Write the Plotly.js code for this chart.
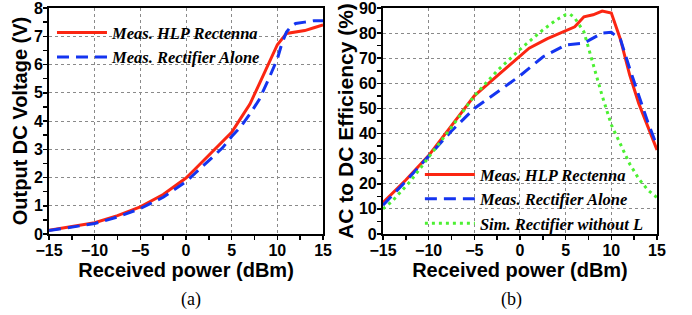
<!DOCTYPE html>
<html>
<head>
<meta charset="utf-8">
<script src="https://cdn.plot.ly/plotly-3.0.1.min.js"></script>
<style>html,body{margin:0;padding:0;background:#fff;}#chart{width:692px;height:315px;}</style>
</head>
<body>
<div id="chart"></div>
<script>
// (a) Output DC voltage vs received power
const vRedX  = [-15, -12.5, -10, -7.5, -5, -2.5, 0, 1, 2, 3, 4, 5, 6, 7, 8, 9, 10, 11, 12, 13, 14, 15];
const vRedY  = [0.13, 0.27, 0.4, 0.65, 0.96, 1.4, 1.98, 2.3, 2.62, 2.95, 3.25, 3.6, 4.1, 4.6, 5.3, 6.0, 6.7, 7.1, 7.15, 7.2, 7.3, 7.4];
const vBlueX = [-15, -12.5, -10, -7.5, -5, -2.5, 0, 1, 2, 3, 4, 5, 6, 7, 8, 9, 10, 10.5, 11, 11.5, 12, 13, 14, 15];
const vBlueY = [0.12, 0.24, 0.37, 0.6, 0.9, 1.3, 1.85, 2.15, 2.45, 2.75, 3.05, 3.45, 3.8, 4.25, 4.75, 5.45, 6.2, 6.75, 7.15, 7.35, 7.45, 7.5, 7.55, 7.55];

// (b) AC to DC efficiency vs received power
const eRedX   = [-15, -12.5, -10, -7.5, -5, -2.5, 0, 1, 3, 5, 6, 7, 8, 9, 10, 11, 12, 13, 14, 15];
const eRedY   = [12.5, 21.5, 31.2, 43, 55, 63, 70.7, 74, 77.8, 80.8, 82.5, 86.5, 87.3, 88.8, 88, 77.5, 63.5, 52, 42.8, 33.5];
const eBlueX  = [-15, -12.5, -10, -7.5, -5, -2.5, 0, 2.5, 5, 7, 8, 9, 10, 11, 12, 13, 14, 15];
const eBlueY  = [11.5, 21, 31, 41, 50, 56.5, 63, 70.5, 75.3, 76, 78, 80, 80.3, 77.5, 66, 55, 44.5, 35];
const eGreenX = [-15, -14, -12, -10, -7.5, -5, -2.5, 0, 2.5, 4, 5, 5.5, 6, 7, 8, 9, 10, 11, 12, 13, 14, 15];
const eGreenY = [10, 13, 21, 30.5, 42.5, 55, 65, 73.5, 81.3, 85.3, 87.3, 87.5, 86, 80.5, 67.5, 55, 43.5, 35.5, 28, 22, 17.5, 14.5];

const names = ['Meas. HLP Rectenna', 'Meas. Rectifier Alone', 'Sim. Rectifier without L'];
const xTitle = 'Received power (dBm)';

const RED = '#fb2612', BLUE = '#1434f0', GREEN = '#4cf032';
const DASH = '12px,7px', DOT = '3px,4px';

const traces = [
  {x: vRedX, y: vRedY, name: names[0], mode: 'lines', line: {color: RED, width: 3}, xaxis: 'x', yaxis: 'y', legend: 'legend'},
  {x: vBlueX, y: vBlueY, name: names[1], mode: 'lines', line: {color: BLUE, width: 3, dash: DASH}, xaxis: 'x', yaxis: 'y', legend: 'legend'},
  {x: eRedX, y: eRedY, name: names[0], mode: 'lines', line: {color: RED, width: 3}, xaxis: 'x2', yaxis: 'y2', legend: 'legend2'},
  {x: eBlueX, y: eBlueY, name: names[1], mode: 'lines', line: {color: BLUE, width: 3, dash: DASH}, xaxis: 'x2', yaxis: 'y2', legend: 'legend2'},
  {x: eGreenX, y: eGreenY, name: names[2], mode: 'lines', line: {color: GREEN, width: 3, dash: DOT}, xaxis: 'x2', yaxis: 'y2', legend: 'legend2'}
];

const tickFont = {family: 'Liberation Sans, Arial, sans-serif', size: 16, color: '#000', weight: 'bold'};
const titleFont = {family: 'Liberation Sans, Arial, sans-serif', size: 20, color: '#000', weight: 'bold'};
const titleFont2 = {family: 'Liberation Sans, Arial, sans-serif', size: 21, color: '#000', weight: 'bold'};
const legFont = {family: 'Liberation Serif, Times New Roman, serif', size: 16.5, color: '#000', weight: 'bold', style: 'italic'};

function axis(extra) {
  return Object.assign({
    showline: true, mirror: true, linecolor: '#000', linewidth: 2,
    ticks: 'outside', ticklen: 4, tickwidth: 1.5, tickcolor: '#000',
    showgrid: true, gridcolor: '#8a8a8a', gridwidth: 1, griddash: 'dot',
    zeroline: false, tickfont: tickFont, fixedrange: true,
    ticklabeloverflow: 'allow', ticklabelstandoff: -3
  }, extra);
}

const layout = {
  width: 692, height: 315,
  margin: {l: 49, r: 35, t: 8, b: 81},
  paper_bgcolor: '#fff', plot_bgcolor: '#fff',
  showlegend: true,
  xaxis: axis({domain: [0, 0.4507], range: [-15, 15], dtick: 5, tick0: 0,
    minor: {ticks: 'outside', dtick: 2.5, tick0: 0, ticklen: 4, tickwidth: 1.5, tickcolor: '#000', showgrid: false},
    title: {text: xTitle, font: titleFont, standoff: 4}, anchor: 'y'}),
  yaxis: axis({domain: [0, 1], range: [0, 8], dtick: 1, tick0: 0,
    minor: {ticks: 'outside', dtick: 0.5, tick0: 0, ticklen: 4, tickwidth: 1.5, tickcolor: '#000', showgrid: false},
    title: {text: 'Output DC Voltage (V)', font: titleFont, standoff: 1}, anchor: 'x'}),
  xaxis2: axis({domain: [0.5493, 1], range: [-15, 15], dtick: 5, tick0: 0,
    minor: {ticks: 'outside', dtick: 2.5, tick0: 0, ticklen: 4, tickwidth: 1.5, tickcolor: '#000', showgrid: false},
    title: {text: xTitle, font: titleFont, standoff: 4}, anchor: 'y2'}),
  yaxis2: axis({domain: [0, 1], range: [0, 90], dtick: 10, tick0: 0,
    minor: {ticks: 'outside', dtick: 5, tick0: 0, ticklen: 4, tickwidth: 1.5, tickcolor: '#000', showgrid: false},
    title: {text: 'AC to DC Efficiency (%)', font: titleFont2, standoff: 0}, anchor: 'x2'}),
  legend: {x: 0.0049, y: 0.968, xanchor: 'left', yanchor: 'top', bgcolor: 'rgba(0,0,0,0)',
    font: legFont, itemwidth: 50, tracegroupgap: 0},
  legend2: {x: 0.610, y: 0.34, xanchor: 'left', yanchor: 'top', bgcolor: 'rgba(0,0,0,0)',
    font: legFont, itemwidth: 50, tracegroupgap: 0},
  annotations: [
    {text: '(a)', xref: 'paper', yref: 'paper', x: 0.2336, y: -0.29, xanchor: 'center', yanchor: 'middle', showarrow: false,
     font: {family: 'Liberation Serif, Times New Roman, serif', size: 18, color: '#000'}},
    {text: '(b)', xref: 'paper', yref: 'paper', x: 0.760, y: -0.29, xanchor: 'center', yanchor: 'middle', showarrow: false,
     font: {family: 'Liberation Serif, Times New Roman, serif', size: 18, color: '#000'}}
  ]
};

Plotly.newPlot('chart', traces, layout, {displayModeBar: false, staticPlot: true});
</script>
</body>
</html>
